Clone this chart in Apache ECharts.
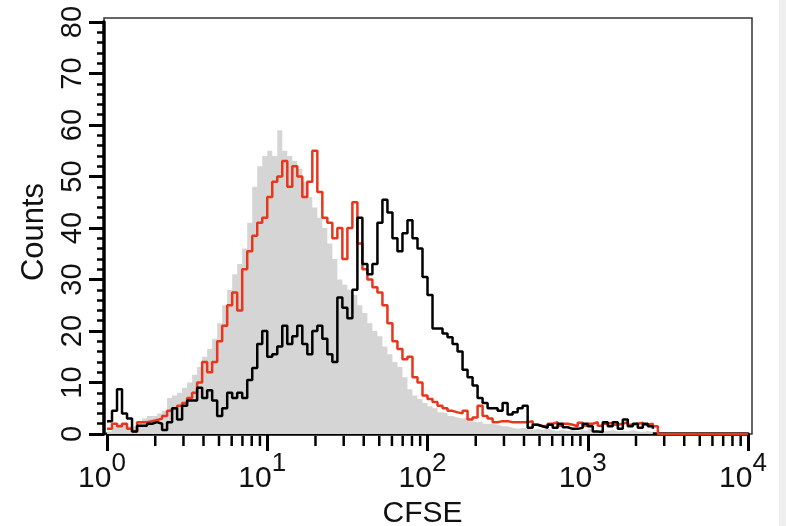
<!DOCTYPE html>
<html>
<head>
<meta charset="utf-8">
<script src="https://cdn.jsdelivr.net/npm/echarts@6/dist/echarts.min.js"></script>
<style>
html, body { margin: 0; padding: 0; background: #fff; }
#main { width: 786px; height: 526px; background: linear-gradient(to right, #fff 779px, #efefef 779px); }
</style>
</head>
<body>
<div id="main"></div>
<script>
// histogram channels, 32 per decade starting at 10^0
var binsPerDecade = 32;

// unstained control (gray fill)
var grayCounts = [0.5, 1.5, 2, 2, 1.5, 1.5, 2.5, 3, 3.5, 3.5,
  4, 4.5, 7, 7.5, 8, 9, 10, 11.5, 13, 15,
  16.5, 18.5, 21.5, 25, 28, 31, 33, 36, 41, 48,
  52, 54, 55, 54, 59, 55, 54, 53, 51.5, 49,
  46, 44, 42, 40, 37, 34, 30, 29, 28, 27,
  25, 23.5, 21.5, 20, 19, 17, 15.5, 14, 13, 11,
  8.7, 7.5, 6.8, 6, 5.4, 5, 4.2, 4, 3.5, 3.2,
  3, 3.2, 2.5, 2.3, 2.5, 2, 2, 1.8, 1.5, 1.5,
  1.2, 1, 1.2, 1, 0.8, 1, 0.8, 1, 0.8, 0.6,
  0.8, 0.6, 0.8, 0.5, 0.8, 0.6, 1, 0.6, 0.5, 0.6,
  0.8, 0.5, 0.6, 0.5, 0.8, 0.5, 0.4, 0.6, 0.4, 0.3];

// red histogram
var redCounts = [1, 2, 1.5, 2, 1, 0.5, 2.3, 2.3, 2.5, 2.7,
  3, 3.5, 4.5, 5, 5.5, 6, 7, 8, 10, 14,
  12, 14, 18, 21, 25, 27.5, 24, 32, 35.5, 38.5,
  41, 42, 46, 49, 50, 53, 48, 52, 50, 46,
  49, 55, 47, 42, 41, 38, 40, 34, 40, 45,
  37, 32, 30, 28.5, 27.5, 25, 21.5, 18, 16.5, 14.5,
  15, 11, 10, 7.5, 6.8, 6.2, 5.5, 5, 4.5, 4.2,
  4, 4.5, 2.8, 3.2, 5.5, 3.5, 3, 2.3, 2.5, 2.5,
  2.3, 2.3, 2.3, 2.3, 2.5, 1.8, 1.5, 1.6, 2, 2.3,
  1.6, 2, 1.8, 1.5, 2.2, 1.6, 2, 2.3, 1.6, 2,
  2.2, 1.8, 2, 2.3, 1.8, 2, 2.2, 1.8, 2, 1.5,
  0, 0, 0, 0, 0, 0, 0, 0, 0, 0,
  0, 0, 0, 0, 0, 0, 0, 0, 0];

// black histogram
var blackCounts = [2.5, 4.5, 8.7, 4, 3, 0.5, 1.6, 1.6, 2, 2.3,
  2, 0.8, 2.3, 5, 2.8, 5.5, 6.5, 6.5, 9, 7,
  8.5, 6.5, 3.5, 5, 8, 7, 8, 7, 10.5, 12.8,
  17.5, 20, 15, 15.5, 17, 21, 17.5, 19, 21, 17.5,
  15.5, 20, 21, 18.5, 15.5, 14, 26.5, 24.5, 22.5, 28,
  42, 33, 31, 33, 41, 45.5, 43, 38, 35.5, 39,
  41.5, 38, 36, 30.5, 27, 20.5, 20.5, 19.5, 18.8, 17.5,
  16, 12.5, 11, 9.4, 7, 6, 5, 5, 4.5, 6,
  3.8, 4.2, 5, 5.5, 1.2, 1.8, 1.5, 1.2, 1.8, 1.2,
  2, 1.3, 1, 1, 1.2, 2, 1.5, 0.5, 0.4, 2.3,
  1.5, 2.3, 1, 2.8, 1.5, 2, 1.2, 2, 1.5, 1];

var decades = [1, 10, 100, 1000];
var minorSteps = [2, 3, 4, 5, 6, 7, 8, 9];

function toPoints(arr) {
  return arr.map(function (c, i) { return [Math.pow(10, i / binsPerDecade), c]; });
}

var minorTicks = [];
decades.forEach(function (d) {
  minorSteps.forEach(function (k) { minorTicks.push([d * k, 0]); });
});

var font = '"Liberation Sans", Arial, Helvetica, sans-serif';
var txt = '#111';

var chart = echarts.init(document.getElementById('main'));
chart.setOption({
  animation: false,
  textStyle: { fontFamily: font },
  grid: [
    { left: 107, right: 38, top: 22, bottom: 92, outerBoundsMode: 'none' },
    // outer frame
    { left: 104, right: 34, top: 18, bottom: 92, show: true, borderColor: '#333', borderWidth: 1.5,
      backgroundColor: 'transparent', outerBoundsMode: 'none' }
  ],
  xAxis: [
    {
      type: 'log', logBase: 10, min: 1, max: 10000, gridIndex: 0, offset: 2,
      axisLine: { lineStyle: { color: '#000', width: 3.5 } },
      axisTick: { length: 17, lineStyle: { color: '#000', width: 3 } },
      splitLine: { show: false },
      axisLabel: {
        margin: 15, padding: [0, 10, 0, 0],
        formatter: function (v) { return '{b|10}{s|' + Math.round(Math.log10(v)) + '}'; },
        rich: {
          b: { fontSize: 30, lineHeight: 30, verticalAlign: 'bottom', color: txt, fontFamily: font },
          s: { fontSize: 26, verticalAlign: 'top', padding: [0, 0, 17, 0], color: txt, fontFamily: font }
        }
      },
      name: 'CFSE', nameLocation: 'middle', nameGap: 56,
      nameTextStyle: { fontSize: 30, color: txt, padding: [0, 10, 0, 0] }
    },
    { type: 'value', gridIndex: 1, show: false, min: 0, max: 1 }
  ],
  yAxis: [
    {
      type: 'value', gridIndex: 0, min: 0, max: 80, interval: 10, offset: 3,
      axisLine: { show: true, lineStyle: { color: '#000', width: 3.5 } },
      axisTick: { show: true, length: 15, lineStyle: { color: '#000', width: 3 } },
      minorTick: { show: true, splitNumber: 5, length: 7, lineStyle: { color: '#000', width: 2.5 } },
      splitLine: { show: false },
      axisLabel: { rotate: 90, margin: 17, fontSize: 29, color: txt },
      name: 'Counts', nameLocation: 'middle', nameGap: 53, nameRotate: 90,
      nameTextStyle: { fontSize: 31, color: txt, padding: [0, 8, 0, 0] }
    },
    { type: 'value', gridIndex: 1, show: false, min: 0, max: 1 }
  ],
  series: [
    {
      type: 'line', step: 'end', data: toPoints(grayCounts), symbol: 'none',
      lineStyle: { width: 0 }, areaStyle: { color: '#d5d5d5', opacity: 1 }, z: 2
    },
    {
      type: 'line', step: 'end', data: toPoints(redCounts), symbol: 'none',
      lineStyle: { color: '#e8361c', width: 2.5 }, z: 3
    },
    {
      type: 'line', step: 'end', data: toPoints(blackCounts), symbol: 'none',
      lineStyle: { color: '#000', width: 2.5 }, z: 4
    },
    {
      // log minor ticks under the x axis
      type: 'custom', clip: false, silent: true, z: 1, data: minorTicks,
      renderItem: function (params, api) {
        var p = api.coord([api.value(0), 0]);
        return {
          type: 'line',
          shape: { x1: p[0], y1: p[1] + 2, x2: p[0], y2: p[1] + 12 },
          style: { stroke: '#000', lineWidth: 2.5 }
        };
      }
    }
  ]
});
</script>
</body>
</html>
